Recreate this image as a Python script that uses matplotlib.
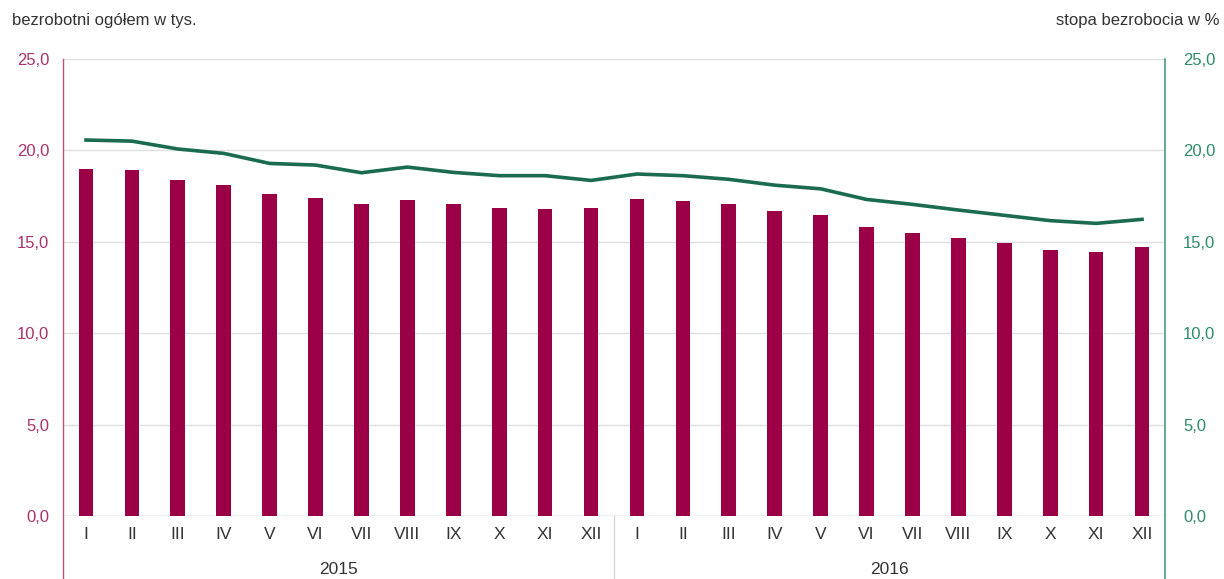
import matplotlib.pyplot as plt
import numpy as np

plt.rcParams['font.family'] = ['Liberation Sans', 'DejaVu Sans']

# data
months = ["I", "II", "III", "IV", "V", "VI", "VII", "VIII", "IX", "X", "XI", "XII"]
years = ["2015", "2016"]
unemployed = [18.99, 18.93, 18.38, 18.13, 17.60, 17.40, 17.08, 17.27, 17.08, 16.85, 16.81, 16.85,
              17.32, 17.21, 17.05, 16.68, 16.45, 15.80, 15.47, 15.21, 14.92, 14.55, 14.46, 14.72]
rate = [20.57, 20.51, 20.08, 19.84, 19.29, 19.20, 18.78, 19.09, 18.80, 18.62, 18.62, 18.36,
        18.71, 18.62, 18.42, 18.10, 17.90, 17.32, 17.05, 16.74, 16.45, 16.16, 16.01, 16.23]
yticks = [0, 5, 10, 15, 20, 25]

bar_color = "#9b0047"
line_color = "#1b6b50"
left_col = "#a8336a"
right_col = "#2f8a6c"

fig = plt.figure(figsize=(12.24, 5.79), dpi=100)
ax = fig.add_axes([0.0515, 0.1088, 0.9003, 0.7892])
ax2 = ax.twinx()

x = np.arange(len(unemployed))
ax.bar(x, unemployed, width=0.32, color=bar_color, zorder=3)
ax2.plot(x, rate, color=line_color, lw=2.6, zorder=4)

for a in (ax, ax2):
    a.set_ylim(0, 25)
    a.set_xlim(-0.5, len(x) - 0.5)
    a.set_yticks(yticks)
    a.set_yticklabels([("%.1f" % v).replace(".", ",") for v in yticks])
    for s in a.spines.values():
        s.set_visible(False)

ax.yaxis.grid(True, color="#e0e0e0", lw=1, zorder=0)
ax.set_axisbelow(True)
ax.tick_params(axis="y", length=0, labelsize=12, colors=left_col, pad=10)
ax2.tick_params(axis="y", length=0, labelsize=12, colors=right_col, pad=13)
ax2.set_zorder(ax.get_zorder() + 1)
ax2.patch.set_visible(False)

# x labels
ax.set_xticks(x)
ax.set_xticklabels(months * 2)
ax.tick_params(axis="x", length=0, labelsize=12.5, colors="#333333", pad=8)
ax.axhline(0, color="#d0d0d0", lw=1, zorder=2)

# axis lines extending below the plot
ax.plot([0, 0], [-0.14, 1.0], transform=ax.transAxes, color="#c0507e", lw=1, clip_on=False)
ax.plot([1, 1], [-0.14, 1.0], transform=ax.transAxes, color="#4a9a80", lw=1.2, clip_on=False)
ax.plot([11.5, 11.5], [-0.14, 0.0], transform=ax.get_xaxis_transform(),
        color="#d8d8d8", lw=1, clip_on=False)

for i, yr in enumerate(years):
    ax.text(5.5 + 12 * i, -0.118, yr, transform=ax.get_xaxis_transform(),
            ha="center", va="center", fontsize=12.5, color="#333333")

fig.text(12 / 1224, 1 - 21 / 579, "bezrobotni ogółem w tys.", fontsize=12,
         color="#333333", ha="left", va="center")
fig.text(1 - 4 / 1224, 1 - 21 / 579, "stopa bezrobocia w %", fontsize=12,
         color="#333333", ha="right", va="center")

fig.savefig("out.png", dpi=100)
